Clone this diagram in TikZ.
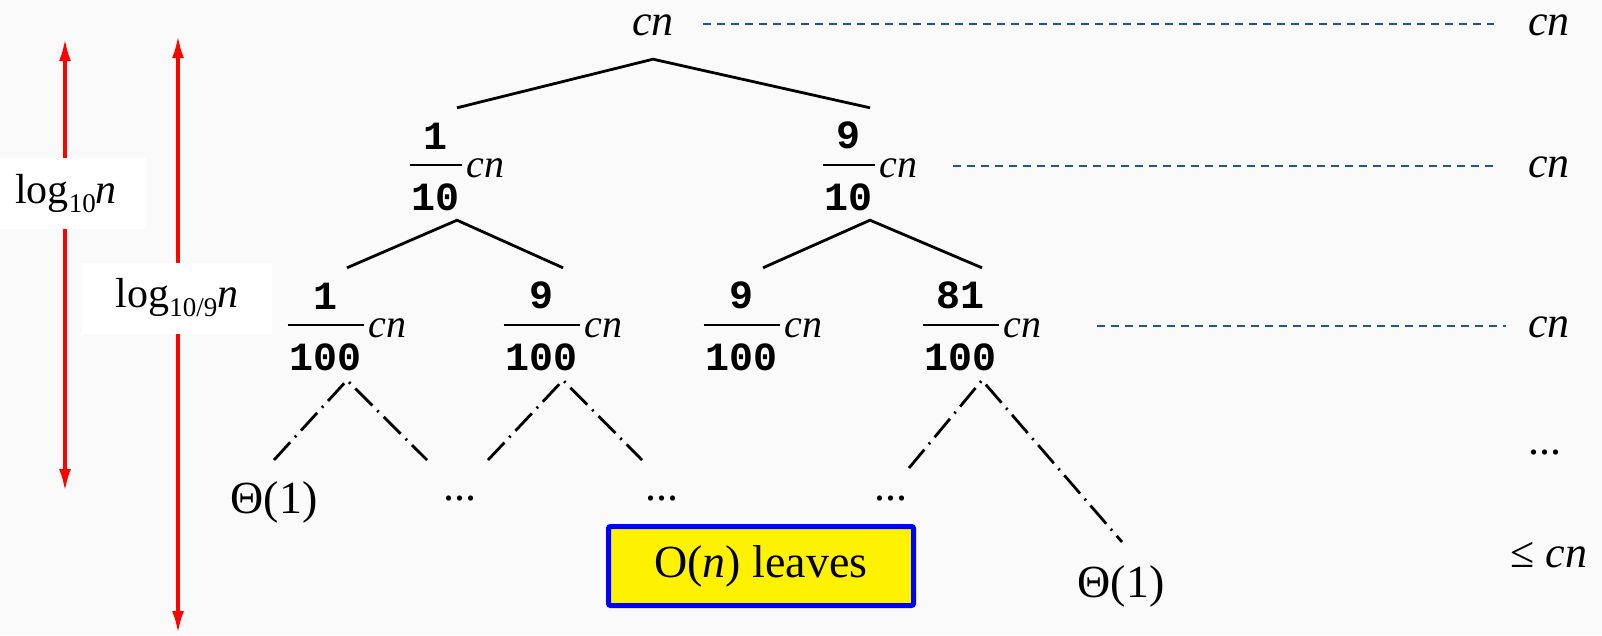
\documentclass[tikz,border=0pt]{standalone}
\usepackage{fontspec}
\setmainfont{Liberation Serif}
\newfontfamily\fracfont{Liberation Mono}
\usetikzlibrary{arrows.meta}
\definecolor{lvlblue}{RGB}{30,85,155}
\definecolor{paper}{RGB}{250,250,250}

% bold monospaced fraction, bar a little above the baseline
\newcommand{\frc}[2]{\raisebox{-33pt}{\vbox{\offinterlineskip\tabskip=2pt
  \halign{\hfil##\hfil\cr\fracfont\bfseries #1\cr
  \noalign{\kern15pt\hrule height 2.2pt\kern17pt}
  \fracfont\bfseries #2\cr}}}}
\newcommand{\sub}[1]{\raisebox{-9pt}{\fontsize{27}{27}\selectfont #1}}

\begin{document}
\begin{tikzpicture}[x=1pt,y=-1pt,
    tnode/.style={inner sep=0pt,anchor=base,font=\fontsize{40}{48}\selectfont,text height=69pt,text depth=43pt},
    txt/.style={inner sep=0pt,anchor=base,font=\fontsize{44}{52}\selectfont},
    branch/.style={line width=2.8pt},
    leafline/.style={line width=2.8pt,dash pattern=on 24pt off 7pt on 2pt off 7pt},
    lvl/.style={line width=2.4pt,lvlblue,dash pattern=on 8pt off 6pt},
    heightarrow/.style={line width=3.2pt,red,{Latex[length=22pt,width=12pt]}-{Latex[length=22pt,width=12pt]}},
    lbl/.style={fill=white,inner ysep=0pt,minimum height=71pt,font=\fontsize{42}{50}\selectfont},
    leafbox/.style={draw=blue,fill=yellow,line width=5pt,rounded corners=2pt,minimum width=305pt,minimum height=79pt,inner sep=0pt,font=\fontsize{46}{54}\selectfont}]
    \fill[paper] (0,0) rectangle (1602,635);
    \useasboundingbox (0,0) rectangle (1602,635);

    % tree heights
    \coordinate (t1) at (65,39);
    \coordinate (b1) at (65,491);
    \coordinate (t2) at (178,36);
    \coordinate (b2) at (178,633);
    \draw[heightarrow] (t1) -- (b1);
    \draw[heightarrow] (t2) -- (b2);
    \node[lbl,anchor=west,text width=116pt,align=left,inner xsep=15pt] (log1) at (0,193.5) {log\sub{10}\textit{n}};
    \node[lbl,minimum width=190pt,inner xsep=0pt] (log2) at (177,298) {log\sub{10/9}\textit{n}};

    % recursion tree
    \node[txt,font=\fontsize{44}{52}\selectfont,text depth=24pt] (root) at (653,35) {\textit{cn}};
    \node[tnode] (l1a) at (457,177) {\frc{1}{10}\kern5pt\textit{cn}};
    \node[tnode] (l1b) at (870,177) {\frc{9}{10}\kern5pt\textit{cn}};
    \node[tnode] (l2a) at (347,337) {\frc{1}{100}\kern5pt\textit{cn}};
    \node[tnode] (l2b) at (563,337) {\frc{9}{100}\kern5pt\textit{cn}};
    \node[tnode] (l2c) at (763,337) {\frc{9}{100}\kern5pt\textit{cn}};
    \node[tnode] (l2d) at (982,337) {\frc{81}{100}\kern5pt\textit{cn}};
    \draw[branch] (l1a.north) -- (root.south) -- (l1b.north);
    \draw[branch] (l2a.north) -- (l1a.south) -- (l2b.north);
    \draw[branch] (l2c.north) -- (l1b.south) -- (l2d.north);

    % leaves
    \node[txt,font=\fontsize{46}{54}\selectfont] (thl) at (274,513) {Θ(1)};
    \node[txt,font=\fontsize{46}{54}\selectfont] (thr) at (1121,597) {Θ(1)};
    \node[txt] (dt1) at (460,500) {...};
    \node[txt] (dt2) at (662,500) {...};
    \node[txt] (dt3) at (891,500) {...};
    \coordinate (e1) at (274,460);
    \coordinate (e2) at (427,460);
    \coordinate (e3) at (488,460);
    \coordinate (e4) at (642,460);
    \coordinate (e5) at (909,468);
    \coordinate (e6) at (1122,542);
    \draw[leafline] (e1) -- (l2a.south) -- (e2);
    \draw[leafline] (e3) -- (l2b.south) -- (e4);
    \draw[leafline] (e5) -- (l2d.south) -- (e6);
    \node[leafbox] (leaves) at (761,566) {O(\textit{n}) leaves};

    % cost per level
    \node[txt] (s1) at (1549,35) {\textit{cn}};
    \node[txt] (s2) at (1549,177) {\textit{cn}};
    \node[txt] (s3) at (1549,337) {\textit{cn}};
    \node[txt] (s4) at (1545,454) {...};
    \node[txt] (s5) at (1549,567) {≤ \textit{cn}};
    \draw[lvl] ([xshift=29pt,yshift=11pt]root.base east) -- ([xshift=-34pt,yshift=11pt]s1.base west);
    \draw[lvl] ([xshift=35pt,yshift=11pt]l1b.base east) -- ([xshift=-34pt,yshift=11pt]s2.base west);
    \draw[lvl] ([xshift=55pt,yshift=11pt]l2d.base east) -- ([xshift=-22pt,yshift=11pt]s3.base west);
\end{tikzpicture}
\end{document}
